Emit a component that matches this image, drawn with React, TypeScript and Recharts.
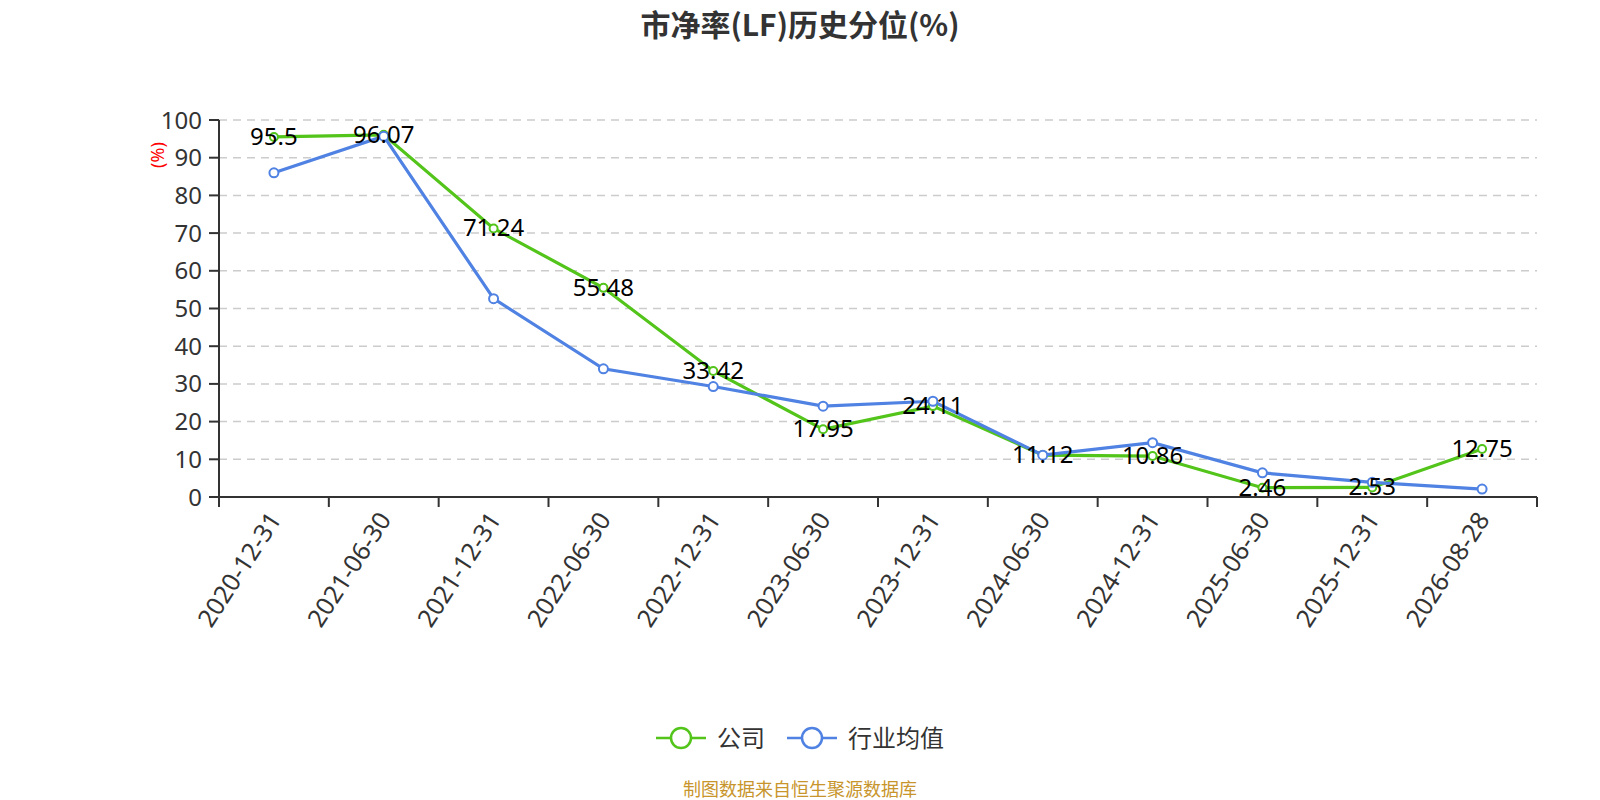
import React from 'react';
import { LineChart, Line, XAxis, YAxis, CartesianGrid, Legend, LabelList } from 'recharts';

const categories = [
  '2020-12-31', '2021-06-30', '2021-12-31', '2022-06-30', '2022-12-31', '2023-06-30',
  '2023-12-31', '2024-06-30', '2024-12-31', '2025-06-30', '2025-12-31', '2026-08-28',
];
const companyValues = [95.5, 96.07, 71.24, 55.48, 33.42, 17.95, 24.11, 11.12, 10.86, 2.46, 2.53, 12.75];
const industryValues = [86.0, 95.7, 52.6, 34.0, 29.3, 24.1, 25.4, 11.1, 14.4, 6.4, 3.9, 2.1];
const yTicks = [0, 10, 20, 30, 40, 50, 60, 70, 80, 90, 100];

const seriesNames = { company: '公司', industry: '行业均值' };

const GREEN = '#52c41a';
const BLUE = '#4f82e2';
const FONT = '"Noto Sans", "Noto Sans CJK SC", sans-serif';

const PLOT_LEFT = 219;
const PLOT_RIGHT = 1537;
const BAND = (PLOT_RIGHT - PLOT_LEFT) / categories.length;

const data = categories.map((date, i) => ({
  date,
  company: companyValues[i],
  industry: industryValues[i],
}));

const XTick = (props: any) => {
  const { x, y, payload, index } = props;
  const last = index === categories.length - 1;
  const tx = x;
  const ty = y + 17;
  return (
    <g>
      <line x1={x - BAND / 2} x2={x - BAND / 2} y1={y} y2={y + 10} stroke="#333" strokeWidth={2} />
      {last && <line x1={x + BAND / 2} x2={x + BAND / 2} y1={y} y2={y + 10} stroke="#333" strokeWidth={2} />}
      <text
        x={tx}
        y={ty}
        transform={`rotate(-57, ${tx}, ${ty})`}
        textAnchor="end"
        dominantBaseline="central"
        fontSize={25}
        fill="#333"
      >
        {payload.value}
      </text>
    </g>
  );
};

const ValueLabel = (props: any) => {
  const { x, y, value } = props;
  return (
    <text x={x} y={y + 8} textAnchor="middle" fontSize={24} fill="#000">
      {value}
    </text>
  );
};

const LegendContent = () => {
  const items = [
    { name: seriesNames.company, color: GREEN },
    { name: seriesNames.industry, color: BLUE },
  ];
  return (
    <div style={{ display: 'flex', justifyContent: 'center', alignItems: 'center', gap: 22 }}>
      {items.map((it) => (
        <div key={it.name} style={{ display: 'flex', alignItems: 'center', gap: 11 }}>
          <svg width={50} height={24}>
            <line x1={0} x2={50} y1={12} y2={12} stroke={it.color} strokeWidth={2.5} />
            <circle cx={25} cy={12} r={10} fill="#fff" stroke={it.color} strokeWidth={2.5} />
          </svg>
          <span style={{ fontSize: 24, color: '#333', lineHeight: '24px' }}>{it.name}</span>
        </div>
      ))}
    </div>
  );
};

export default function App() {
  return (
    <div style={{ position: 'absolute', left: 0, top: 0, width: 1600, height: 800, background: '#fff', fontFamily: FONT }}>
      <div
        style={{
          position: 'absolute', top: 8, left: 0, width: 1600, textAlign: 'center',
          fontSize: 30, fontWeight: 'bold', color: '#333', lineHeight: '30px',
          fontFamily: '"Noto Sans CJK SC", sans-serif',
        }}
      >
        市净率(LF)历史分位(%)
      </div>
      <div
        style={{
          position: 'absolute', left: 157, top: 155, transform: 'translate(-50%, -50%) rotate(-90deg)',
          fontSize: 18, color: '#ff0000', whiteSpace: 'nowrap', lineHeight: '18px',
        }}
      >
        (%)
      </div>
      <LineChart
        width={1600}
        height={800}
        data={data}
        margin={{ top: 120, right: 1600 - PLOT_RIGHT, bottom: 243, left: PLOT_LEFT - 60 }}
      >
        <CartesianGrid vertical={false} stroke="#ccc" strokeDasharray="8 6" strokeWidth={1.5} />
        <XAxis
          dataKey="date"
          scale="band"
          interval={0}
          height={60}
          tickLine={false}
          tickSize={0}
          tickMargin={0}
          axisLine={{ stroke: '#333', strokeWidth: 2 }}
          tick={<XTick />}
        />
        <YAxis
          width={60}
          domain={[0, 100]}
          ticks={yTicks}
          interval={0}
          tickSize={10}
          tickMargin={7}
          axisLine={{ stroke: '#333', strokeWidth: 2 }}
          tickLine={{ stroke: '#333', strokeWidth: 2 }}
          tick={{ fontSize: 24, fill: '#333' }}
        />
        <Legend
          verticalAlign="middle"
          align="center"
          wrapperStyle={{ top: 726, left: 0, width: 1600 }}
          content={<LegendContent />}
        />
        <Line
          dataKey="company"
          name={seriesNames.company}
          stroke={GREEN}
          strokeWidth={3.2}
          dot={{ r: 4, fill: '#fff', stroke: GREEN, strokeWidth: 2 }}
          isAnimationActive={false}
        />
        <Line
          dataKey="industry"
          name={seriesNames.industry}
          stroke={BLUE}
          strokeWidth={3.2}
          dot={{ r: 4.5, fill: '#fff', stroke: BLUE, strokeWidth: 2 }}
          isAnimationActive={false}
        />
        <Line
          dataKey="company"
          stroke="none"
          dot={false}
          activeDot={false}
          legendType="none"
          isAnimationActive={false}
        >
          <LabelList dataKey="company" content={<ValueLabel />} />
        </Line>
      </LineChart>
      <div
        style={{
          position: 'absolute', top: 778, left: 0, width: 1600, textAlign: 'center',
          fontSize: 18, color: '#c8952c', lineHeight: '20px',
          fontFamily: '"Noto Sans CJK SC", sans-serif',
        }}
      >
        制图数据来自恒生聚源数据库
      </div>
    </div>
  );
}
